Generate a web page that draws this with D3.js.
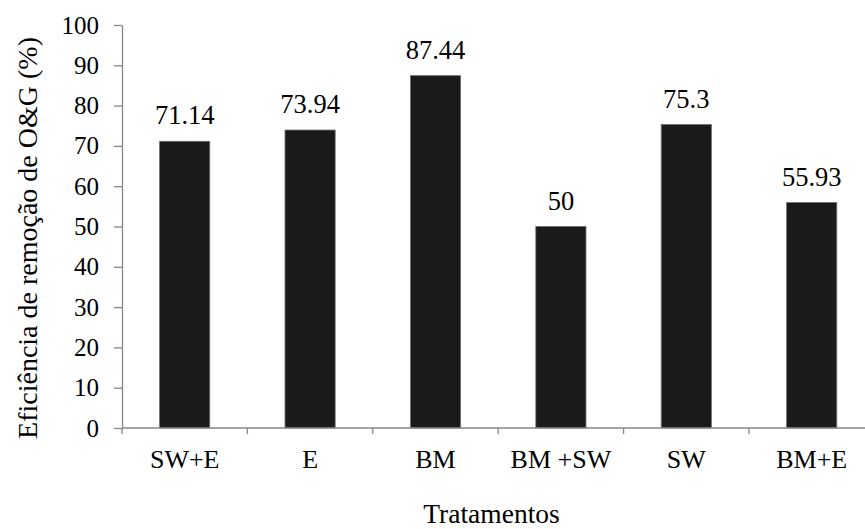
<!DOCTYPE html>
<html>
<head>
<meta charset="utf-8">
<script src="https://cdn.jsdelivr.net/npm/d3@7"></script>
<style>
  html, body { margin: 0; padding: 0; background: #fff; }
  svg { display: block; }
</style>
</head>
<body>
<svg id="chart" width="865" height="529"></svg>
<script>
// Treatments and O&G removal efficiency (%)
const categories = ["SW+E", "E", "BM", "BM +SW", "SW", "BM+E"];
const values = [71.14, 73.94, 87.44, 50, 75.3, 55.93];
const valueLabels = ["71.14", "73.94", "87.44", "50", "75.3", "55.93"];
const yTicks = [0, 10, 20, 30, 40, 50, 60, 70, 80, 90, 100];

const serif = "'Liberation Serif', 'Times New Roman', Times, serif";
const svg = d3.select("#chart");
const axisColor = "#868686";

const plotLeft = 122, plotBottom = 428, plotTop = 25;
const bandStep = 125.4;

const x = d3.scaleBand()
  .domain(categories)
  .range([plotLeft, plotLeft + bandStep * categories.length])
  .paddingInner(0.6)
  .paddingOuter(0.3);

const y = d3.scaleLinear().domain([0, 100]).range([plotBottom, plotTop]);

// Bars
svg.append("g").selectAll("rect")
  .data(categories)
  .join("rect")
  .attr("x", d => x(d))
  .attr("y", (d, i) => y(values[i]))
  .attr("width", x.bandwidth())
  .attr("height", (d, i) => y(0) - y(values[i]))
  .attr("fill", "#1a1a1a")
  .attr("stroke", "#6e6e6e")
  .attr("stroke-width", 0.8);

// Value labels above bars
svg.append("g").selectAll("text")
  .data(categories)
  .join("text")
  .attr("x", d => x(d) + x.bandwidth() / 2)
  .attr("y", (d, i) => y(values[i]) - 17)
  .attr("text-anchor", "middle")
  .style("font-family", serif)
  .style("font-size", "26.5px")
  .style("fill", "#000")
  .text((d, i) => valueLabels[i]);

// Y axis
const yAxis = svg.append("g")
  .attr("transform", `translate(${plotLeft},0)`)
  .call(d3.axisLeft(y).tickValues(yTicks).tickSize(8).tickPadding(15).tickSizeOuter(0));
yAxis.attr("font-family", null);
yAxis.select(".domain").attr("stroke", axisColor).attr("stroke-width", 1.3);
yAxis.selectAll(".tick line").attr("stroke", axisColor).attr("stroke-width", 1.3);
yAxis.selectAll(".tick text")
  .style("font-family", serif)
  .style("font-size", "25px")
  .style("fill", "#000");

// X axis: baseline with boundary ticks between categories
const xg = svg.append("g").attr("transform", `translate(0,${plotBottom})`);
xg.append("line")
  .attr("x1", plotLeft).attr("x2", plotLeft + bandStep * categories.length)
  .attr("stroke", axisColor).attr("stroke-width", 1.3);
xg.selectAll(".sep")
  .data(d3.range(categories.length + 1))
  .join("line")
  .attr("class", "sep")
  .attr("x1", i => plotLeft + i * bandStep)
  .attr("x2", i => plotLeft + i * bandStep)
  .attr("y1", 0).attr("y2", 6)
  .attr("stroke", axisColor).attr("stroke-width", 1.3);
xg.selectAll(".lbl")
  .data(categories)
  .join("text")
  .attr("class", "lbl")
  .attr("x", d => x(d) + x.bandwidth() / 2)
  .attr("y", 40)
  .attr("text-anchor", "middle")
  .style("font-family", serif)
  .style("font-size", "26px")
  .style("fill", "#000")
  .text(d => d);

// Axis titles
svg.append("text")
  .attr("x", 491.5)
  .attr("y", 523)
  .attr("text-anchor", "middle")
  .style("font-family", serif)
  .style("font-size", "27.5px")
  .style("fill", "#000")
  .text("Tratamentos");

svg.append("text")
  .attr("transform", "translate(37,238) rotate(-90)")
  .attr("text-anchor", "middle")
  .style("font-family", serif)
  .style("font-size", "28px")
  .style("fill", "#000")
  .text("Eficiência de remoção de O&G (%)");
</script>
</body>
</html>
